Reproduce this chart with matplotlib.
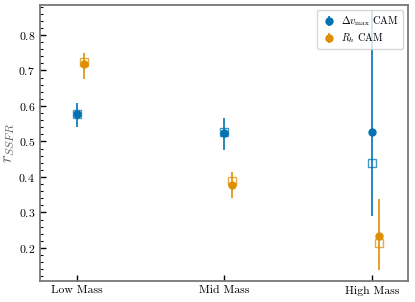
import matplotlib
matplotlib.use("Agg")
import matplotlib.pyplot as plt
import numpy as np
from matplotlib.ticker import MultipleLocator

plt.rcParams['font.family'] = 'serif'
plt.rcParams['font.serif'] = ['cmr10']
plt.rcParams['mathtext.fontset'] = 'cm'
plt.rcParams['axes.formatter.use_mathtext'] = True

categories = ["Low Mass", "Mid Mass", "High Mass"]

# Delta v_max CAM
vmax_circle = [0.578, 0.523, 0.526]
vmax_circle_lo = [0.541, 0.477, 0.289]
vmax_circle_hi = [0.608, 0.566, 0.868]
vmax_square = [0.578, 0.528, 0.439]

# R_h CAM
rh_circle = [0.718, 0.378, 0.234]
rh_circle_lo = [0.675, 0.341, 0.139]
rh_circle_hi = [0.750, 0.414, 0.338]
rh_square = [0.725, 0.389, 0.213]

blue = '#0173b2'
orange = '#de8f05'

fig = plt.figure(figsize=(4.15, 3.02), dpi=100)
ax = fig.add_axes([0.0964, 0.0695, 0.8866, 0.9135])

x = np.arange(len(categories))
off = 0.05

def yerr(c, lo, hi):
    c = np.array(c); lo = np.array(lo); hi = np.array(hi)
    return [c - lo, hi - c]

ax.errorbar(x, vmax_circle, yerr=yerr(vmax_circle, vmax_circle_lo, vmax_circle_hi),
            fmt='o', color=blue, ms=5, elinewidth=1.2, capsize=0,
            label=r'$\Delta v_{\rm max}$ CAM', zorder=3)
ax.errorbar(x + off, rh_circle, yerr=yerr(rh_circle, rh_circle_lo, rh_circle_hi),
            fmt='o', color=orange, ms=5, elinewidth=1.2, capsize=0,
            label=r'$R_h$ CAM', zorder=3)
ax.plot(x, vmax_square, 's', mfc='none', mec=blue, ms=5.5, mew=1.0, alpha=0.75, zorder=4)
ax.plot(x + off, rh_square, 's', mfc='none', mec=orange, ms=5.5, mew=1.0, alpha=0.75, zorder=4)

ax.set_xticks(x)
ax.set_xticklabels(categories, fontsize=8.5)
ax.set_xlim(-0.25, 2.245)
ax.set_ylim(0.107, 0.884)
ax.yaxis.set_major_locator(MultipleLocator(0.1))
ax.yaxis.set_minor_locator(MultipleLocator(0.02))
ax.tick_params(axis='both', which='both', direction='in', labelsize=8.5, color='black')
ax.tick_params(axis='both', which='major', length=4, width=1)
ax.tick_params(axis='y', which='minor', length=2.5, width=0.8)
ax.tick_params(axis='x', which='minor', bottom=False)
for s in ax.spines.values():
    s.set_color('#777777')
    s.set_linewidth(1.3)

ax.set_ylabel(r'$r_{SSFR}$', fontsize=12, color='#666666', labelpad=1)

leg = ax.legend(loc='upper right', fontsize=7.5, handletextpad=0.4, borderpad=0.4,
                labelspacing=0.3, frameon=True, handlelength=1.5)
leg.get_frame().set_edgecolor('#cccccc')

fig.savefig('out.png', dpi=100)
